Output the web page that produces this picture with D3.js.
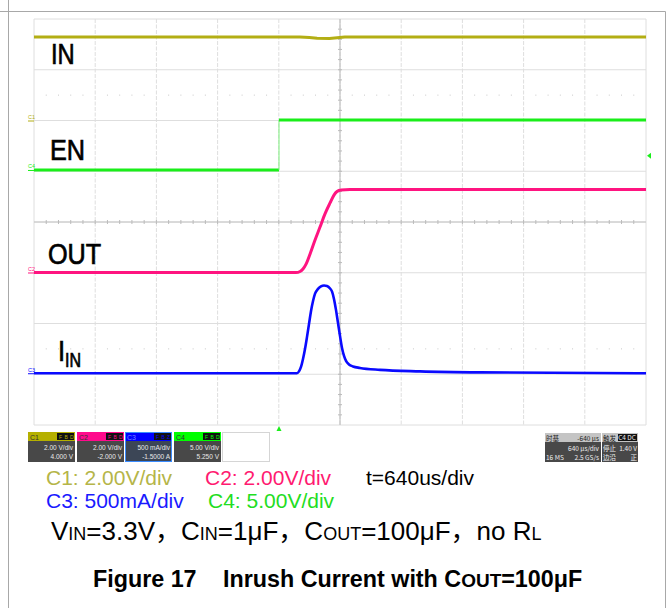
<!DOCTYPE html>
<html><head><meta charset="utf-8">
<script src="https://cdn.jsdelivr.net/npm/d3@7"></script>
<style>body{margin:0;background:#fff}svg{display:block}text{font-family:"Liberation Sans",Arial,Helvetica,sans-serif}</style>
</head><body><svg id="c" width="669" height="608"></svg>
<script>
// ---------------- data ----------------
const timeRange = [0, 6400];          // µs, 640 µs/div, 10 div
const divRange = [-4, 4];             // 8 vertical divisions
const channels = ["C1", "C2", "C3", "C4"];
const traceLabels = ["IN", "OUT", "I", "EN"];
const voltsPerDiv = [2, 2, 500, 5];   // C3 in mA/div
const groundDiv = [2.0, -0.995, -2.98, 1.025];
const inT = [0, 2780, 2880, 2960, 3090, 3170, 3250, 6400];
const inV = [3.29, 3.29, 3.27, 3.24, 3.23, 3.26, 3.29, 3.29];
const enT = [0, 2562, 2562, 6400];
const enV = [0, 0, 4.93, 4.93];
const outT = [0, 2740, 2782, 2813, 2845, 2887, 2939, 2991, 3043, 3096, 3137, 3169, 3211, 3304, 6400];
const outV = [0, 0, 0.04, 0.14, 0.33, 0.73, 1.28, 1.79, 2.31, 2.74, 3.05, 3.19, 3.25, 3.27, 3.27];
const iinT = [0, 2750, 2771, 2792, 2813, 2834, 2855, 2876, 2897, 2918, 2939, 2970, 3001, 3033, 3064, 3096, 3117, 3137, 3158, 3179, 3200, 3221, 3242, 3263, 3294, 3336, 3409, 3618, 4037, 4664, 6400];
const iinA = [0, 0, 18, 62, 141, 239, 358, 486, 614, 712, 784, 831, 856, 865, 860, 835, 804, 732, 624, 496, 368, 249, 170, 121, 87, 67, 52, 33, 18, 8, 0];
const trigTime = 2562, trigLevel = 1.40;
const boxTitles = ["C1", "C2", "C3", "C4"];
const boxScale = ["2.00 V/div", "2.00 V/div", "500 mA/div", "5.00 V/div"];
const boxOffset = ["4.000 V", "-2.000 V", "-1.5000 A", "5.250 V"];
const captionRow1 = ["C1: 2.00V/div", "C2: 2.00V/div", "t=640us/div"];
const captionRow2 = ["C3: 500mA/div", "C4: 5.00V/div"];

// ---------------- setup ----------------
const svg = d3.select("#c");
const colTrace = ["#b3ae14", "#ff1480", "#0a0aff", "#1aee1a"];
const colCap = ["#b5b548", "#ff1a70", "#1a1aff", "#22dd22"];
const colBox = ["#b5b000", "#ff0a8c", "#0000ff", "#00ff00"];

const L = 34, R = 646, T = 19, B = 425;
const x = d3.scaleLinear().domain(timeRange).range([L, R]);
const y = d3.scaleLinear().domain(divRange).range([B, T]);
const yc = (ci, v) => y(groundDiv[ci] + v / voltsPerDiv[ci]);

// outer frame
svg.append("line").attr("x1", 0).attr("x2", 665.5).attr("y1", 11.5).attr("y2", 11.5).attr("stroke", "#a8a8a8");
svg.append("line").attr("x1", 8.5).attr("x2", 8.5).attr("y1", 0).attr("y2", 608).attr("stroke", "#a8a8a8");
svg.append("line").attr("x1", 665.5).attr("x2", 665.5).attr("y1", 11.5).attr("y2", 608).attr("stroke", "#a8a8a8");

// grid
const g = svg.append("g");
g.selectAll(".vg").data(d3.range(timeRange[0], timeRange[1] + 1, 640)).join("line")
  .attr("x1", d => x(d)).attr("x2", d => x(d)).attr("y1", T).attr("y2", B)
  .attr("stroke", "#dedede").attr("stroke-dasharray", (d, i) => (i === 0 || i === 10) ? null : "4,1.5");
g.selectAll(".hg").data(d3.range(divRange[0], divRange[1] + 1, 1)).join("line")
  .attr("x1", L).attr("x2", R).attr("y1", d => y(d)).attr("y2", d => y(d))
  .attr("stroke", "#dedede");
// dotted rows
[2.5, -2.5].forEach(dv => {
  g.selectAll(null).data(d3.range(128, 6400, 128).filter(t => t % 640 !== 0)).join("rect")
    .attr("x", t => x(t) - 0.5).attr("y", y(dv) - 0.5).attr("width", 1).attr("height", 1).attr("fill", "#c8c8c8");
});
// center axes with minor ticks
const cx = x(3200), cy = y(0);
g.append("line").attr("x1", L).attr("x2", R).attr("y1", cy).attr("y2", cy).attr("stroke", "#c4c4c4");
g.append("line").attr("x1", cx).attr("x2", cx).attr("y1", T).attr("y2", B).attr("stroke", "#b8b8b8");
g.selectAll(null).data(d3.range(128, 6400, 128)).join("line")
  .attr("x1", d => x(d)).attr("x2", d => x(d)).attr("y1", cy - 2).attr("y2", cy + 2).attr("stroke", "#bbb");
g.selectAll(null).data(d3.range(-3.8, 4, 0.2)).join("line")
  .attr("y1", d => y(d)).attr("y2", d => y(d)).attr("x1", cx - 2).attr("x2", cx + 2).attr("stroke", "#bbb");

// traces
const line = ci => d3.line().x(d => x(d[0])).y(d => yc(ci, d[1]));
const zip = (a, b) => a.map((t, i) => [t, b[i]]);
svg.append("path").datum(zip(inT, inV)).attr("d", line(0)).attr("fill", "none").attr("stroke", colTrace[0]).attr("stroke-width", 3);
const enPts = zip(enT, enV);
svg.append("path").datum(enPts.slice(0, 2)).attr("d", line(3)).attr("fill", "none").attr("stroke", colTrace[3]).attr("stroke-width", 3);
svg.append("path").datum(enPts.slice(1, 3)).attr("d", line(3)).attr("fill", "none").attr("stroke", "#7df07d").attr("stroke-width", 1);
svg.append("path").datum(enPts.slice(2)).attr("d", line(3)).attr("fill", "none").attr("stroke", colTrace[3]).attr("stroke-width", 3);
svg.append("path").datum(zip(outT, outV)).attr("d", line(1).curve(d3.curveMonotoneX)).attr("fill", "none").attr("stroke", colTrace[1]).attr("stroke-width", 3);
svg.append("path").datum(zip(iinT, iinA)).attr("d", line(2).curve(d3.curveMonotoneX)).attr("fill", "none").attr("stroke", colTrace[2]).attr("stroke-width", 2.6);

// ground markers on left
channels.forEach((c, i) => {
  const gy = y(groundDiv[i]);
  svg.append("text").attr("x", 28).attr("y", gy - 1.5).attr("font-size", 5.5).attr("fill", colTrace[i]).text(c);
  svg.append("line").attr("x1", 28).attr("x2", 34).attr("y1", gy + 0.5).attr("y2", gy + 0.5).attr("stroke", colTrace[i]).attr("stroke-width", 1);
});
// trigger markers
const ty = yc(3, trigLevel);
svg.append("path").attr("d", `M${R + 1},${ty} l4,-3 v6 z`).attr("fill", colTrace[3]);
svg.append("path").attr("d", `M${x(trigTime)},${B + 1} l-2.5,5 h5 z`).attr("fill", colTrace[3]);

// big trace labels (condensed)
const big = (txt, px, py, fs, sx) => svg.append("text")
  .attr("transform", `translate(${px},${py}) scale(${sx},1)`).attr("font-size", fs).attr("fill", "#000")
  .attr("stroke", "#000").attr("stroke-width", 0.7).text(txt);
big(traceLabels[0], 51, 64, 29, 0.82);
big(traceLabels[3], 50, 160, 29, 0.87);
big(traceLabels[1], 48, 264, 29, 0.87);
big(traceLabels[2], 58, 361, 30, 0.85);
big("IN", 65, 366.5, 20, 0.8);

// status bar boxes
const boxX = [28, 77, 125, 174];
boxX.forEach((bx, i) => {
  const gb = svg.append("g");
  gb.append("rect").attr("x", bx).attr("y", 432).attr("width", 47).attr("height", 30).attr("fill", i === 2 ? "#3c4656" : "#484848");
  gb.append("rect").attr("x", bx).attr("y", 432).attr("width", 47).attr("height", 9).attr("fill", colBox[i]);
  if (i === 2) gb.append("rect").attr("x", bx + 0.5).attr("y", 432.5).attr("width", 46).attr("height", 29).attr("fill", "none").attr("stroke", "#3a8cff");
  gb.append("text").attr("x", bx + 2).attr("y", 439.5).attr("font-size", 7).attr("fill", i === 2 ? "#7788ff" : "#333").text(boxTitles[i]);
  gb.append("rect").attr("x", bx + 29).attr("y", 433).attr("width", 17).attr("height", 7).attr("fill", "#111");
  ["F", "B", i === 2 ? "Z" : "DI"].forEach((s, k) => gb.append("text").attr("x", bx + 31 + k * 5.5).attr("y", 439).attr("font-size", 5).attr("fill", colBox[i]).text(s));
  gb.append("text").attr("x", bx + 45).attr("y", 450).attr("text-anchor", "end").attr("font-size", 6.5).attr("fill", "#e8e8e8").text(boxScale[i]);
  gb.append("text").attr("x", bx + 45).attr("y", 459).attr("text-anchor", "end").attr("font-size", 6.5).attr("fill", "#e8e8e8").text(boxOffset[i]);
});
svg.append("rect").attr("x", 222.5).attr("y", 432.5).attr("width", 47).attr("height", 29).attr("fill", "none").attr("stroke", "#aaa").attr("stroke-dasharray", "1,1");

// right info box
const rb = svg.append("g");
rb.append("rect").attr("x", 545).attr("y", 433).attr("width", 56).attr("height", 29).attr("fill", "#484848");
rb.append("rect").attr("x", 545).attr("y", 433).attr("width", 56).attr("height", 9).attr("fill", "#c4c4c4");
rb.append("rect").attr("x", 602).attr("y", 433).attr("width", 36).attr("height", 29).attr("fill", "#484848");
rb.append("rect").attr("x", 602).attr("y", 433).attr("width", 36).attr("height", 9).attr("fill", "#c4c4c4");
const sm = (t, px, py, anchor, col) => rb.append("text").attr("x", px).attr("y", py).attr("text-anchor", anchor)
  .attr("font-size", 6.5).attr("fill", col).style("font-family", '"Noto Sans CJK SC","Liberation Sans",sans-serif').text(t);
sm("时基", 546, 440.5, "start", "#222");
sm("-640 μs", 599, 440.5, "end", "#222");
sm("640 μs/div", 599, 451, "end", "#eee");
sm("16 MS", 546, 460, "start", "#eee");
sm("2.5 GS/s", 599, 460, "end", "#eee");
sm("触发", 603, 440.5, "start", "#222");
rb.append("rect").attr("x", 618).attr("y", 434).attr("width", 19).attr("height", 7).attr("fill", "#111");
sm("C4 DC", 636, 440, "end", "#eee");
sm("停止", 603, 451, "start", "#eee");
sm("1.40 V", 637, 451, "end", "#eee");
sm("边沿", 603, 460, "start", "#eee");
sm("正", 637, 460, "end", "#eee");

// captions
const cap = (t, px, py, col) => svg.append("text").attr("x", px).attr("y", py).attr("font-size", 21).attr("fill", col).text(t);
cap(captionRow1[0], 46, 485, colCap[0]);
cap(captionRow1[1], 205, 485, colCap[1]);
cap(captionRow1[2], 366, 485, "#000");
cap(captionRow2[0], 46, 508, colCap[2]);
cap(captionRow2[1], 208, 508, colCap[3]);

const cond = svg.append("text").attr("x", 51).attr("y", 540).attr("font-size", 26).attr("fill", "#000");
const parts = [["V", 26], ["IN", 18], ["=3.3V", 26], ["，", 26, 1], ["C", 26], ["IN", 18], ["=1μF", 26], ["，", 26, 1], ["C", 26], ["OUT", 18], ["=100μF", 26], ["，", 26, 1], ["no R", 26], ["L", 18]];
parts.forEach(p => {
  const ts = cond.append("tspan").attr("font-size", p[1]).text(p[0]);
  if (p[2]) ts.style("font-family", '"Noto Sans CJK SC",sans-serif');
});

const title = svg.append("text").attr("y", 587).attr("font-size", 23.3).attr("font-weight", "bold").attr("fill", "#000");
title.append("tspan").attr("x", 93).text("Figure 17");
title.append("tspan").attr("x", 223).text("Inrush Current with C");
title.append("tspan").attr("font-size", 19).text("OUT");
title.append("tspan").text("=100μF");
</script></body></html>
